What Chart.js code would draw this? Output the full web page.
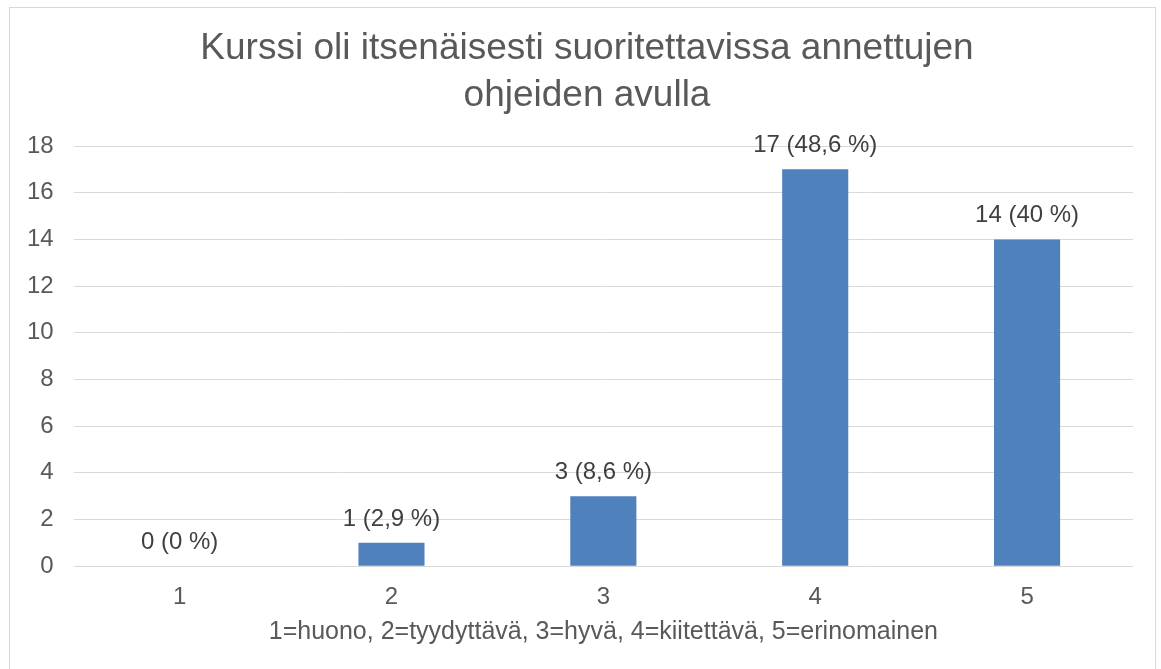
<!DOCTYPE html>
<html>
<head>
<meta charset="utf-8">
<script src="https://cdn.jsdelivr.net/npm/chart.js@4/dist/chart.umd.min.js"></script>
<style>
  html, body { margin: 0; padding: 0; background: #ffffff; }
  #wrap { position: relative; width: 1161px; height: 669px; }
</style>
</head>
<body>
<div id="wrap"><canvas id="c" width="1161" height="669"></canvas></div>
<script>
const categories = ['1', '2', '3', '4', '5'];
const counts = [0, 1, 3, 17, 14];
const dataLabels = ['0 (0 %)', '1 (2,9 %)', '3 (8,6 %)', '17 (48,6 %)', '14 (40 %)'];
const yTicks = [0, 2, 4, 6, 8, 10, 12, 14, 16, 18];
const titleLines = ['Kurssi oli itsenäisesti suoritettavissa annettujen', 'ohjeiden avulla'];
const xAxisTitle = '1=huono, 2=tyydyttävä, 3=hyvä, 4=kiitettävä, 5=erinomainen';

const FONT = "'Liberation Sans', Arial, sans-serif";
const TEXT = '#595959';

const borderPlugin = {
  id: 'borderPlugin',
  beforeDraw(chart) {
    const ctx = chart.ctx;
    ctx.save();
    ctx.fillStyle = '#ffffff';
    ctx.fillRect(0, 0, chart.width, chart.height);
    ctx.strokeStyle = '#d9d9d9';
    ctx.lineWidth = 1;
    ctx.strokeRect(9.5, 7.5, 1146, 700);
    ctx.restore();
  }
};

const titlePlugin = {
  id: 'titlePlugin',
  afterDraw(chart) {
    const ctx = chart.ctx;
    ctx.save();
    ctx.font = '37px ' + FONT;
    ctx.fillStyle = TEXT;
    ctx.textAlign = 'center';
    ctx.textBaseline = 'middle';
    titleLines.forEach((line, i) => {
      ctx.fillText(line, 587, 49 + i * 47);
    });
    ctx.restore();
  }
};

const valueLabelPlugin = {
  id: 'valueLabelPlugin',
  afterDatasetsDraw(chart) {
    const ctx = chart.ctx;
    const meta = chart.getDatasetMeta(0);
    ctx.save();
    ctx.font = '24px ' + FONT;
    ctx.fillStyle = '#404040';
    ctx.textAlign = 'center';
    ctx.textBaseline = 'alphabetic';
    meta.data.forEach((bar, i) => {
      ctx.fillText(dataLabels[i], bar.x, bar.y - 17);
    });
    ctx.restore();
  }
};

new Chart(document.getElementById('c'), {
  type: 'bar',
  data: {
    labels: categories,
    datasets: [{
      data: counts,
      backgroundColor: '#4F81BD',
      borderWidth: 0,
      barPercentage: 0.312,
      categoryPercentage: 1.0
    }]
  },
  options: {
    responsive: false,
    animation: false,
    devicePixelRatio: 1,
    layout: { padding: { left: 7, right: 28, top: 146, bottom: 22 } },
    plugins: {
      legend: { display: false },
      tooltip: { enabled: false },
      title: { display: false }
    },
    scales: {
      x: {
        grid: { display: false, drawTicks: false },
        border: { display: false },
        ticks: { color: TEXT, font: { family: FONT, size: 24 }, padding: 16.5 },
        title: {
          display: true,
          text: xAxisTitle,
          color: TEXT,
          font: { family: FONT, size: 25 },
          padding: { top: -11, bottom: 0 }
        }
      },
      y: {
        min: 0,
        max: 18,
        afterBuildTicks(scale) { scale.ticks = yTicks.map(v => ({ value: v })); },
        grid: { color: '#d9d9d9', lineWidth: 1, drawTicks: false },
        border: { display: false },
        ticks: { color: TEXT, font: { family: FONT, size: 24 }, padding: 20 }
      }
    }
  },
  plugins: [borderPlugin, valueLabelPlugin, titlePlugin]
});
</script>
</body>
</html>
